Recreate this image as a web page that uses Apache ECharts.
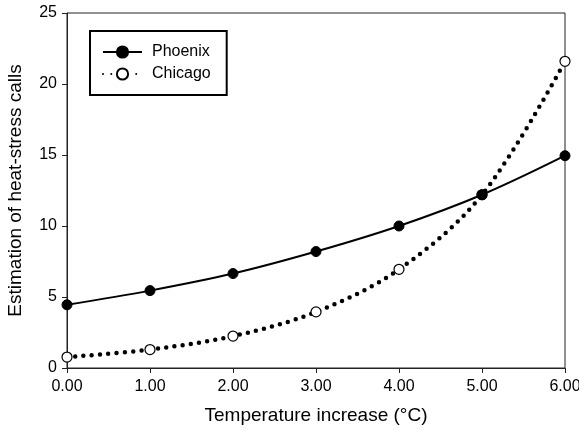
<!DOCTYPE html>
<html>
<head>
<meta charset="utf-8">
<script src="https://cdn.jsdelivr.net/npm/echarts@6/dist/echarts.min.js"></script>
<style>html,body{margin:0;padding:0;background:#fff;}#c{width:579px;height:431px;}</style>
</head>
<body>
<div id="c"></div>
<script>
const temps = [0, 1, 2, 3, 4, 5, 6];
const phoenix = [4.45, 5.45, 6.65, 8.2, 10.0, 12.2, 14.95];
const chicago = [0.77, 1.3, 2.25, 3.95, 6.95, 12.2, 21.6];
const yTicks = [0, 5, 10, 15, 20, 25];

const chart = echarts.init(document.getElementById('c'));
const font = 'Liberation Sans, Arial, sans-serif';
chart.setOption({
  animation: false,
  backgroundColor: '#fff',
  textStyle: { fontFamily: font },
  grid: { left: 67, right: 14, top: 13, bottom: 63, show: true, borderColor: '#222', borderWidth: 1, backgroundColor: 'transparent', containLabel: false, outerBoundsMode: 'none' },
  legend: {
    left: 90, top: 31, orient: 'vertical',
    padding: [13, 16, 13, 12], itemGap: 6,
    itemWidth: 39, itemHeight: 14,
    borderColor: '#000', borderWidth: 2, borderRadius: 0,
    textStyle: { fontFamily: font, fontSize: 16, color: '#000', padding: [0, 0, 0, 5] },
    data: ['Phoenix', 'Chicago']
  },
  xAxis: {
    type: 'value', min: 0, max: 6, interval: 1,
    name: 'Temperature increase (°C)', nameLocation: 'middle', nameGap: 38,
    nameTextStyle: { fontFamily: font, fontSize: 19, color: '#000' },
    axisLine: { lineStyle: { color: '#222', width: 1 } },
    axisTick: { inside: false, length: 5, lineStyle: { color: '#222' } },
    axisLabel: { fontFamily: font, fontSize: 16, color: '#000', margin: 11, formatter: v => v.toFixed(2) },
    splitLine: { show: false }
  },
  yAxis: {
    type: 'value', min: yTicks[0], max: yTicks[yTicks.length - 1], interval: 5,
    name: 'Estimation of heat-stress calls', nameLocation: 'middle', nameGap: 42,
    nameTextStyle: { fontFamily: font, fontSize: 19, color: '#000' },
    axisLine: { show: true, lineStyle: { color: '#222', width: 1 } },
    axisTick: { show: true, length: 5, lineStyle: { color: '#222' } },
    axisLabel: { fontFamily: font, fontSize: 16, color: '#000', margin: 10 },
    splitLine: { show: false }
  },
  series: [
    {
      name: 'Phoenix', type: 'line', smooth: 0.35,
      data: temps.map((t, i) => [t, phoenix[i]]),
      symbol: 'circle', symbolSize: 10,
      itemStyle: { color: '#000', borderColor: '#000', borderWidth: 1 },
      lineStyle: { color: '#000', width: 2 },
      z: 3
    },
    {
      name: 'Chicago', type: 'line', smooth: 0.35,
      data: temps.map((t, i) => [t, chicago[i]]),
      symbol: 'circle', symbolSize: 10, showSymbol: true,
      itemStyle: { color: '#fff', borderColor: '#000', borderWidth: 1.2 },
      lineStyle: { color: '#000', width: 4.5, type: [0, 8.3], cap: 'round' },
      z: 2
    }
  ]
});
</script>
</body>
</html>
